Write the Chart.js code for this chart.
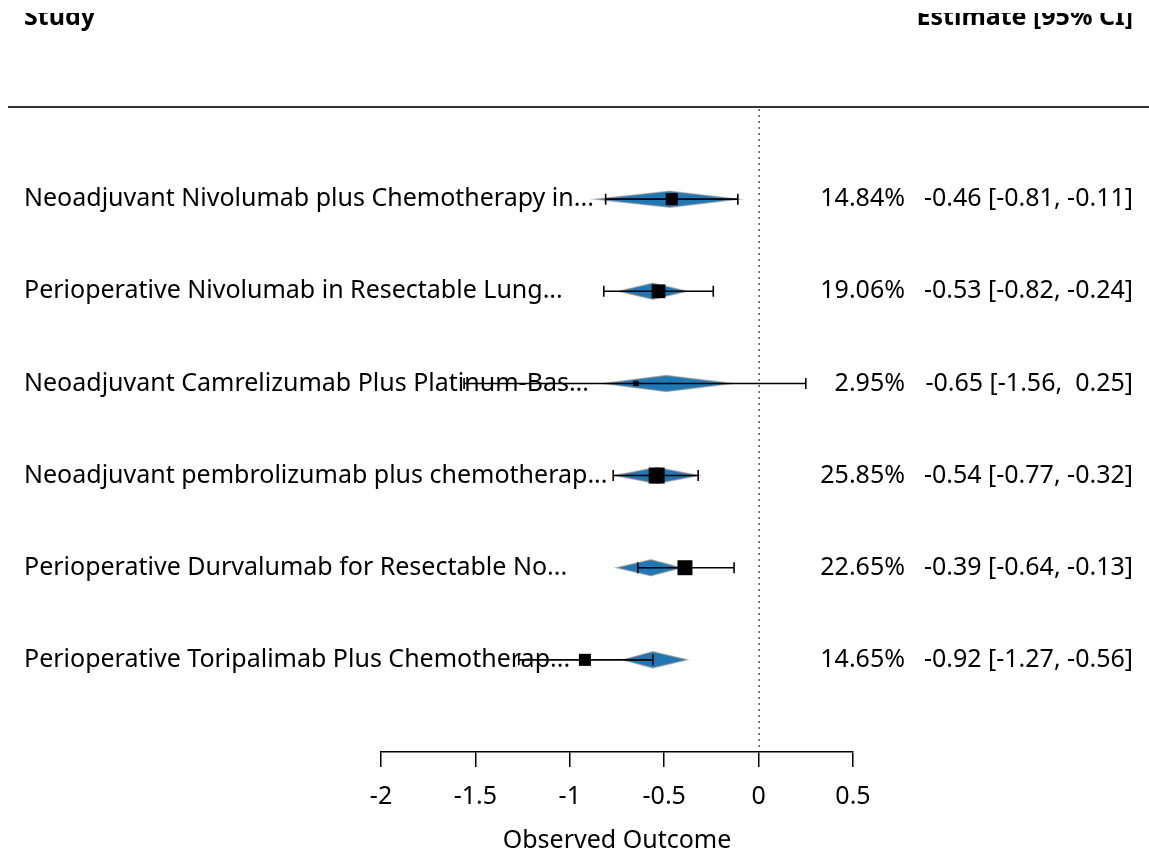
<!DOCTYPE html>
<html>
<head>
<meta charset="utf-8">
<script src="https://cdn.jsdelivr.net/npm/chart.js@4.4.1/dist/chart.umd.min.js"></script>
<style>
  html, body { margin: 0; padding: 0; background: #fff; }
  #forest { display: block; }
</style>
</head>
<body>
<canvas id="forest" width="1149" height="856"></canvas>
<script>
// Study data
const studies = [
  'Neoadjuvant Nivolumab plus Chemotherapy in...',
  'Perioperative Nivolumab in Resectable Lung...',
  'Neoadjuvant Camrelizumab Plus Platinum-Bas...',
  'Neoadjuvant pembrolizumab plus chemotherap...',
  'Perioperative Durvalumab for Resectable No...',
  'Perioperative Toripalimab Plus Chemotherap...'
];
const estimates = [-0.46, -0.53, -0.65, -0.54, -0.39, -0.92];
const ciLower = [-0.81, -0.82, -1.56, -0.77, -0.64, -1.27];
const ciUpper = [-0.11, -0.24, 0.25, -0.32, -0.13, -0.56];
const weights = [14.84, 19.06, 2.95, 25.85, 22.65, 14.65];
const weightLabels = ['14.84%', '19.06%', '2.95%', '25.85%', '22.65%', '14.65%'];
const estLabels = [
  '-0.46 [-0.81, -0.11]',
  '-0.53 [-0.82, -0.24]',
  '-0.65 [-1.56,  0.25]',
  '-0.54 [-0.77, -0.32]',
  '-0.39 [-0.64, -0.13]',
  '-0.92 [-1.27, -0.56]'
];
// blue diamonds (fitted values)
const fitCenter = [-0.47, -0.56, -0.49, -0.54, -0.57, -0.56];
const fitLower = [-0.86, -0.74, -0.82, -0.76, -0.75, -0.72];
const fitUpper = [-0.11, -0.38, -0.14, -0.32, -0.41, -0.38];
const xTicks = [-2, -1.5, -1, -0.5, 0, 0.5];

const FONT = '"Noto Sans", "Open Sans", sans-serif';
const rows = studies.map((s, i) => studies.length - i); // top row = 6

const forestPlugin = {
  id: 'forest',
  beforeDatasetsDraw(chart) {
    const { ctx, chartArea } = chart;
    const x = chart.scales.x, y = chart.scales.y;
    ctx.save();
    // header rule
    ctx.strokeStyle = '#333';
    ctx.lineWidth = 2;
    ctx.beginPath();
    ctx.moveTo(8, chartArea.top);
    ctx.lineTo(chart.width, chartArea.top);
    ctx.stroke();
    // reference line at 0
    ctx.strokeStyle = '#000';
    ctx.lineWidth = 1;
    ctx.setLineDash([2, 4]);
    ctx.beginPath();
    ctx.moveTo(x.getPixelForValue(0) + 0.5, chartArea.top + 2);
    ctx.lineTo(x.getPixelForValue(0) + 0.5, chartArea.bottom);
    ctx.stroke();
    ctx.setLineDash([]);
    // diamonds
    rows.forEach((r, i) => {
      const yp = y.getPixelForValue(r);
      ctx.beginPath();
      ctx.moveTo(x.getPixelForValue(fitLower[i]), yp);
      ctx.lineTo(x.getPixelForValue(fitCenter[i]), yp - 8);
      ctx.lineTo(x.getPixelForValue(fitUpper[i]), yp);
      ctx.lineTo(x.getPixelForValue(fitCenter[i]), yp + 8);
      ctx.closePath();
      ctx.fillStyle = '#1f77b4';
      ctx.fill();
      ctx.strokeStyle = 'rgba(140,140,140,0.6)';
      ctx.lineWidth = 1.5;
      ctx.stroke();
    });
    // whiskers
    ctx.strokeStyle = '#000';
    ctx.lineWidth = 1.6;
    rows.forEach((r, i) => {
      const yp = y.getPixelForValue(r);
      const x1 = x.getPixelForValue(ciLower[i]);
      const x2 = x.getPixelForValue(ciUpper[i]);
      ctx.beginPath();
      ctx.moveTo(x1, yp); ctx.lineTo(x2, yp);
      ctx.moveTo(x1, yp - 5.5); ctx.lineTo(x1, yp + 5.5);
      ctx.moveTo(x2, yp - 5.5); ctx.lineTo(x2, yp + 5.5);
      ctx.stroke();
    });
    ctx.restore();
  },
  afterDraw(chart) {
    const { ctx } = chart;
    const y = chart.scales.y;
    ctx.save();
    ctx.fillStyle = '#000';
    ctx.textBaseline = 'middle';
    ctx.font = '25px ' + FONT;
    rows.forEach((r, i) => {
      const yp = y.getPixelForValue(r);
      ctx.textAlign = 'left';
      ctx.fillText(studies[i], 24, yp);
      ctx.textAlign = 'right';
      ctx.fillText(weightLabels[i], 905, yp);
      ctx.fillText(estLabels[i], 1133, yp);
    });
    // header (cut off at the top in the original)
    ctx.beginPath();
    ctx.rect(0, 13, chart.width, 40);
    ctx.clip();
    ctx.font = 'bold 25px ' + FONT;
    ctx.textBaseline = 'alphabetic';
    ctx.textAlign = 'left';
    ctx.fillText('Study', 24, 25);
    ctx.textAlign = 'right';
    ctx.fillText('Estimate [95% CI]', 1133, 25);
    ctx.restore();
  }
};

new Chart(document.getElementById('forest'), {
  type: 'scatter',
  data: {
    datasets: [{
      data: estimates.map((v, i) => ({ x: v, y: rows[i] })),
      pointStyle: 'rect',
      pointRadius: weights.map(w => 16 * Math.sqrt(w / 25.85) / Math.SQRT2),
      backgroundColor: '#000',
      borderColor: '#000',
      borderWidth: 0
    }]
  },
  options: {
    responsive: false,
    animation: false,
    events: [],
    layout: { padding: { top: 107, left: 381, right: 296, bottom: 0 } },
    plugins: { legend: { display: false }, tooltip: { enabled: false } },
    scales: {
      x: {
        type: 'linear',
        min: -2,
        max: 0.5,
        afterBuildTicks: s => { s.ticks = xTicks.map(v => ({ value: v })); },
        afterFit: s => { s.height = 104; },
        border: { display: true, color: '#000', width: 1.5 },
        grid: { drawOnChartArea: false, drawTicks: true, tickLength: 15, color: '#000', lineWidth: 1.5 },
        ticks: {
          color: '#000',
          padding: 15,
          maxRotation: 0,
          font: { family: FONT, size: 25 },
          callback: v => String(v)
        },
        title: {
          display: true,
          text: 'Observed Outcome',
          color: '#000',
          font: { family: FONT, size: 25 },
          padding: { top: 16, bottom: 0 }
        }
      },
      y: {
        type: 'linear',
        min: 0,
        max: 7,
        display: false
      }
    }
  },
  plugins: [forestPlugin]
});
</script>
</body>
</html>
